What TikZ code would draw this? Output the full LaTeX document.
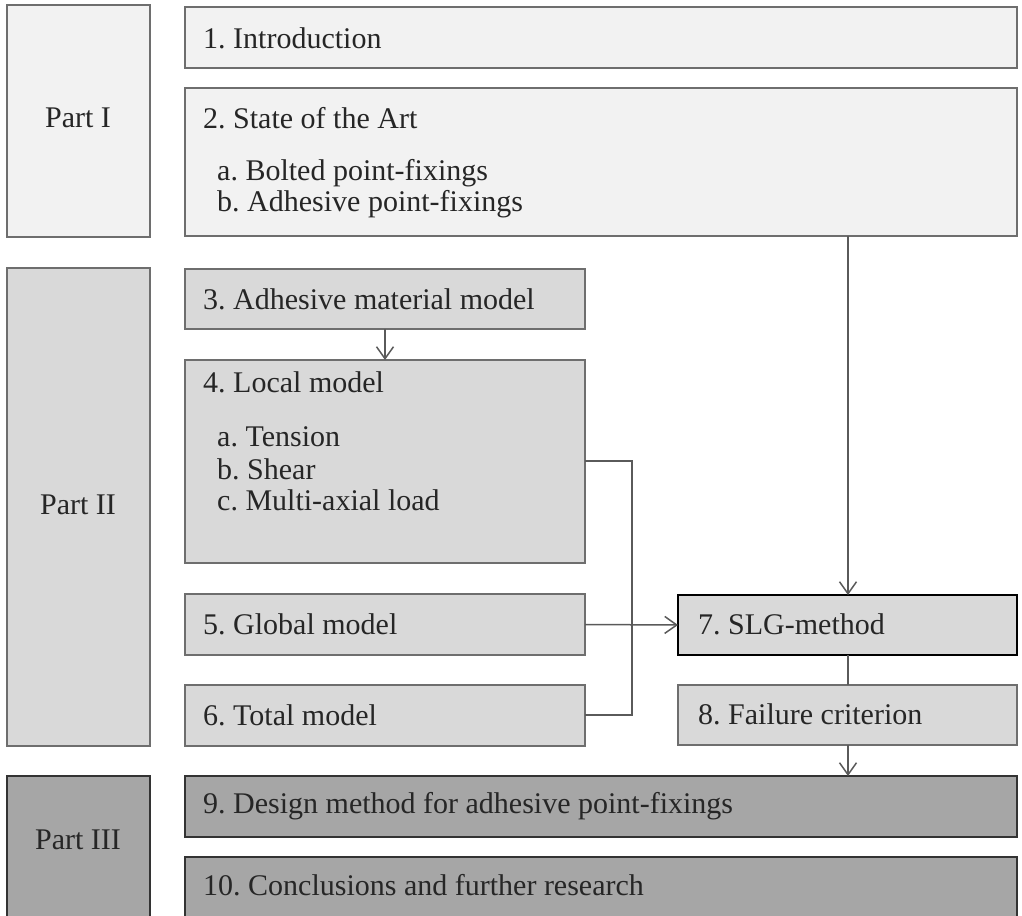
\documentclass[tikz,border=0pt]{standalone}
\usepackage{fontspec}
\setmainfont{Liberation Serif}
\frenchspacing
\usetikzlibrary{arrows.meta}
\definecolor{fillA}{HTML}{F2F2F2}
\definecolor{fillB}{HTML}{D9D9D9}
\definecolor{fillC}{HTML}{A6A6A6}
\definecolor{edgeA}{HTML}{6E6E6E}
\definecolor{edgeC}{HTML}{333333}
\definecolor{txt}{HTML}{262626}
\definecolor{conn}{HTML}{5A5A5A}
\tikzset{
  boxbase/.style={draw, line width=1.4pt, anchor=north west, inner sep=0pt, outer sep=0pt},
  boxA/.style={boxbase, fill=fillA, draw=edgeA},
  boxB/.style={boxbase, fill=fillB, draw=edgeA},
  boxC/.style={boxbase, fill=fillC, draw=edgeC},
  boxK/.style={boxbase, fill=fillB, draw=black},
  lbl/.style={anchor=west, inner sep=0pt, text=txt, font=\fontsize{30}{34}\selectfont},
  plbl/.style={anchor=center, inner sep=0pt, text=txt, font=\fontsize{30}{34}\selectfont},
  conline/.style={draw=conn, line width=1.5pt},
  conarrow/.style={conline, -{Straight Barb[length=12pt,width=17pt,line width=1.5pt]}},
}
\begin{document}
\begin{tikzpicture}[x=1pt,y=-1pt]
\useasboundingbox (0,0) rectangle (1022,915);
% Part boxes
\node[boxA, minimum width=143pt, minimum height=232pt] (p1) at (7,5) {};
\node[boxB, minimum width=143pt, minimum height=478pt] (p2) at (7,268) {};
\node[boxC, minimum width=143pt, minimum height=150pt] (p3) at (7,776) {};
\node[plbl] (p1t) at (78,118) {Part I};
\node[plbl] (p2t) at (78,505) {Part II};
\node[plbl] (p3t) at (78,840) {Part III};
% chapter boxes
\node[boxA, minimum width=832pt, minimum height=61pt] (b1) at (185,7) {};
\node[boxA, minimum width=832pt, minimum height=148pt] (b2) at (185,88) {};
\node[boxB, minimum width=400pt, minimum height=60pt] (b3) at (185,269) {};
\node[boxB, minimum width=400pt, minimum height=203pt] (b4) at (185,360) {};
\node[boxB, minimum width=400pt, minimum height=61pt] (b5) at (185,594) {};
\node[boxB, minimum width=400pt, minimum height=61pt] (b6) at (185,685) {};
\node[boxK, minimum width=339pt, minimum height=60pt] (b7) at (678,595) {};
\node[boxB, minimum width=339pt, minimum height=60pt] (b8) at (678,685) {};
\node[boxC, minimum width=832pt, minimum height=61pt] (b9) at (185,776) {};
\node[boxC, minimum width=832pt, minimum height=70pt] (b10) at (185,857) {};
% texts
\node[lbl] (t1) at (203,38) {1. Introduction};
\node[lbl] (t2) at (203,118) {2. State of the Art};
\node[lbl] (t2a) at (217,173) {a. Bolted point-fixings};
\node[lbl] (t2b) at (217,204) {b. Adhesive point-fixings};
\node[lbl] (t3) at (203,299) {3. Adhesive material model};
\node[lbl] (t4) at (203,382) {4. Local model};
\node[lbl] (t4a) at (217,437) {a. Tension};
\node[lbl] (t4b) at (217,469) {b. Shear};
\node[lbl] (t4c) at (217,500) {c. Multi-axial load};
\node[lbl] (t5) at (203,624) {5. Global model};
\node[lbl] (t6) at (203,715) {6. Total model};
\node[lbl] (t7) at (698,624) {7. SLG-method};
\node[lbl] (t8) at (698,714) {8. Failure criterion};
\node[lbl] (t9) at (203,806) {9. Design method for adhesive point-fixings};
\node[lbl] (t10) at (203,885) {10. Conclusions and further research};
% connectors
\coordinate (j1) at (632,461);
\coordinate (j2) at (632,715);
\draw[conarrow] (b3.south) -- (b4.north);
\draw[conarrow] (b2.south -| 848,0) -- (b7.north -| 848,0);
\draw[conline] (b4.east |- j1) -- (j1) -- (j2) -- (b6.east |- j2);
\draw[conarrow] (b5.east) -- (b7.west);
\draw[conline] (b7.south -| 848,0) -- (b8.north -| 848,0);
\draw[conarrow] (b8.south -| 848,0) -- (b9.north -| 848,0);
\end{tikzpicture}
\end{document}
